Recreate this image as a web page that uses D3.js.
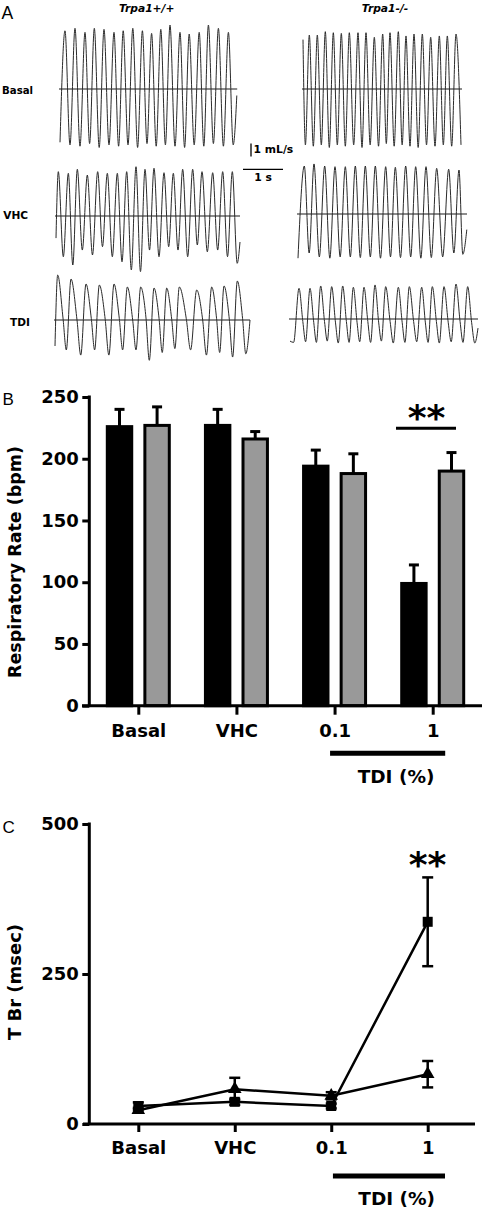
<!DOCTYPE html>
<html><head><meta charset="utf-8">
<script src="https://cdn.jsdelivr.net/npm/d3@7"></script>
<style>body{margin:0;background:#fff} svg{display:block}</style>
</head><body><svg id="c" width="484" height="1212"></svg>
<script>
// ---------- Panel A: respiratory flow traces (time s, flow mL/s) ----------
const wtBasalPeaks = [[0.125,4.48],[0.375,4.67],[0.625,4.36],[0.858,4.67],[1.1,4.59],[1.35,4.36],[1.58,4.48],[1.82,4.67],[2.06,4.48],[2.29,4.28],[2.52,4.59],[2.75,4.92],[3.0,4.36],[3.23,4.23],[3.48,4.36],[3.71,4.92],[3.96,4.67],[4.21,4.36]];
const wtBasalValleys = [[0,-4.1],[0.25,-4.3],[0.5,-4.4],[0.74,-4.2],[0.98,-4.5],[1.225,-4.3],[1.465,-4.4],[1.7,-4.3],[1.94,-4.5],[2.175,-4.2],[2.405,-4.4],[2.635,-4.3],[2.875,-4.4],[3.115,-4.5],[3.355,-4.3],[3.595,-4.4],[3.835,-4.2],[4.085,-4.4],[4.33,-4.3],[4.42,-0.5]];
const koBasalPeaks = [[0.158,4.15],[0.358,4.15],[0.558,4.41],[0.758,4.33],[0.958,4.28],[1.158,4.33],[1.375,4.33],[1.575,4.33],[1.783,3.98],[1.992,4.23],[2.175,4.33],[2.383,4.41],[2.575,4.08],[2.775,4.23],[2.983,4.23],[3.192,3.98],[3.408,4.08],[3.608,4.08],[3.825,4.23]];
const koBasalValleys = [[0,3.8],[0.06,-4.3],[0.258,-4.4],[0.458,-4.3],[0.658,-4.5],[0.858,-4.3],[1.058,-4.4],[1.267,-4.3],[1.475,-4.5],[1.679,-4.3],[1.888,-4.4],[2.083,-4.2],[2.279,-4.4],[2.479,-4.3],[2.675,-4.4],[2.879,-4.5],[3.088,-4.3],[3.3,-4.4],[3.508,-4.3],[3.717,-4.4],[3.95,-4.3]];
const wtVhcPeaks = [[0.058,3.41],[0.308,3.28],[0.533,3.59],[0.783,3.15],[1.042,3.41],[1.283,3.28],[1.533,3.28],[1.767,3.41],[2.0,3.79],[2.225,3.59],[2.45,3.67],[2.7,3.33],[2.933,3.28],[3.167,3.59],[3.417,3.59],[3.65,3.41],[3.917,3.33],[4.167,3.41],[4.408,3.41]];
const wtVhcValleys = [[0,-1.7],[0.183,-3.13],[0.42,-3.77],[0.658,-2.62],[0.912,-3.0],[1.162,-2.36],[1.408,-3.13],[1.65,-3.52],[1.883,-4.15],[2.112,-4.28],[2.338,-2.62],[2.575,-3.13],[2.817,-2.36],[3.05,-2.62],[3.292,-3.13],[3.533,-2.23],[3.783,-2.75],[4.042,-2.62],[4.288,-3.13],[4.53,-3.64],[4.6,-2.0]];
const koVhcPeaks = [[0.158,3.69],[0.4,3.85],[0.667,3.69],[0.925,3.64],[1.183,3.64],[1.433,3.69],[1.683,3.69],[1.933,3.69],[2.192,3.64],[2.433,3.59],[2.692,3.69],[2.942,3.64],[3.2,3.64],[3.467,3.51],[3.767,3.44],[4.025,3.38]];
const koVhcValleys = [[0,-3.4],[0.279,-3.0],[0.533,-3.3],[0.796,-3.4],[1.054,-3.3],[1.308,-3.3],[1.558,-3.35],[1.808,-3.3],[2.062,-3.4],[2.312,-3.3],[2.562,-3.35],[2.817,-3.3],[3.071,-3.4],[3.333,-3.35],[3.617,-3.3],[3.896,-3.0],[4.12,-3.1],[4.22,-1.2]];
const wtTdiPeaks = [[0.067,3.46],[0.4,3.15],[0.775,2.77],[1.108,2.69],[1.475,2.77],[1.808,2.54],[2.142,2.54],[2.475,2.46],[2.792,2.46],[3.108,2.54],[3.542,2.31],[3.917,2.54],[4.225,2.62],[4.558,3.0]];
const wtTdiMids = [[0.2,0.15],[0.55,0.0],[0.908,0.1],[1.255,0.05],[1.608,0.1],[1.942,0.0],[2.275,0.15],[2.602,0.1],[2.918,0.05],[3.282,0.1],[3.692,0.0],[4.04,0.1],[4.358,0.05],[4.69,0.1]];
const wtTdiValleys = [[0,-2.0],[0.283,-2.3],[0.644,-2.7],[0.991,-2.3],[1.347,-2.7],[1.691,-2.3],[2.025,-2.3],[2.358,-3.1],[2.681,-2.5],[2.997,-2.2],[3.39,-2.3],[3.786,-2.7],[4.117,-2.5],[4.441,-2.85],[4.77,-2.6],[4.875,0.0]];
const koTdiPeaks = [[0.225,2.36],[0.5,2.36],[0.767,2.54],[1.042,2.49],[1.317,2.54],[1.583,2.44],[1.85,2.44],[2.125,2.62],[2.392,2.49],[2.708,2.44],[2.983,2.49],[3.292,2.44],[3.558,2.49],[3.85,2.49],[4.15,2.69],[4.442,2.49]];
const koTdiMids = [[0.321,-0.2],[0.593,-0.25],[0.863,-0.2],[1.138,-0.3],[1.41,-0.2],[1.676,-0.25],[1.946,-0.2],[2.218,-0.3],[2.503,-0.2],[2.804,-0.25],[3.091,-0.2],[3.385,-0.3],[3.66,-0.2],[3.955,-0.25],[4.252,-0.2],[4.54,-0.25]];
const koTdiValleys = [[0,-1.7],[0.09,-1.8],[0.39,-1.75],[0.66,-1.8],[0.932,-1.7],[1.207,-1.85],[1.477,-1.8],[1.743,-1.75],[2.015,-1.8],[2.285,-1.7],[2.582,-1.85],[2.873,-1.8],[3.168,-1.75],[3.452,-1.8],[3.733,-1.85],[4.03,-1.75],[4.325,-1.8],[4.62,-1.85],[4.7,-0.7]];
const genotypes = ['Trpa1+/+','Trpa1-/-'];
const conditions = ['Basal','VHC','TDI'];
const scaleFlow = 1;   // mL/s
const scaleTime = 1;   // s

// ---------- Panel B: respiratory rate ----------
const categories = ['Basal','VHC','0.1','1'];
const rrTicks = [0,50,100,150,200,250];
const rrWT = [226,227,194,99];
const rrWTsem = [14,13,13,15];
const rrKO = [227,216,188,190];
const rrKOsem = [15,6,16,15];

// ---------- Panel C: T Br ----------
const tbrTicks = [0,250,500];
const tbrWT = [30,37,30,337];
const tbrWTsem = [6,5,4,74];
const tbrKO = [23,58,47,83];
const tbrKOsem = [4,19,6,22];

const svg = d3.select('#c');
const F = '"DejaVu Sans", sans-serif';
const LF = '"Liberation Sans", Arial, sans-serif';

// ================= Panel A =================
svg.append('text').attr('x',1.5).attr('y',18.5).attr('font-family',LF).attr('font-size',17.5).text('A');
[[146.7,genotypes[0]],[385,genotypes[1]]].forEach(([cx,t])=>{
  svg.append('text').attr('x',cx).attr('y',12.3).attr('text-anchor','middle')
    .attr('font-family',F).attr('font-weight','bold').attr('font-style','italic').attr('font-size',10.7).text(t);
});
svg.append('text').attr('x',2).attr('y',94.3).attr('font-family',F).attr('font-weight','bold').attr('font-size',10.2).text(conditions[0]);
svg.append('text').attr('x',3.3).attr('y',219.3).attr('font-family',F).attr('font-weight','bold').attr('font-size',10.6).text(conditions[1]);
svg.append('text').attr('x',10).attr('y',325.7).attr('font-family',F).attr('font-weight','bold').attr('font-size',10.6).text(conditions[2]);

const secK = 40, ampK = 13;
function drawTrace(peaks, valleys, mids, x0, y0, len){
  const pts = peaks.concat(valleys, mids||[]).sort((a,b)=>a[0]-b[0]);
  const x = d3.scaleLinear().domain([0,len]).range([x0, x0+len*secK]);
  const y = d3.scaleLinear().domain([-1,1]).range([y0+ampK, y0-ampK]);
  svg.append('line').attr('x1',x(0)-1).attr('x2',x(len)).attr('y1',y(0)).attr('y2',y(0))
    .attr('stroke','#1a1a1a').attr('stroke-width',1.1);
  svg.append('path').datum(pts)
    .attr('d', d3.line().x(d=>x(d[0])).y(d=>y(d[1])).curve(d3.curveMonotoneX))
    .attr('fill','none').attr('stroke','#2a2a2a').attr('stroke-width',1);
}
drawTrace(wtBasalPeaks, wtBasalValleys, null, 60, 89, 4.43);
drawTrace(koBasalPeaks, koBasalValleys, null, 303, 89, 3.975);
drawTrace(wtVhcPeaks, wtVhcValleys, null, 56, 216, 4.6);
drawTrace(koVhcPeaks, koVhcValleys, null, 298, 214, 4.225);
drawTrace(wtTdiPeaks, wtTdiValleys, wtTdiMids, 55, 320, 4.875);
drawTrace(koTdiPeaks, koTdiValleys, koTdiMids, 290, 319, 4.7);

// scale bars
{
  const sy = d3.scaleLinear().domain([0,1]).range([156.5,156.5-ampK]);
  svg.append('line').attr('x1',251).attr('x2',251).attr('y1',sy(0)).attr('y2',sy(scaleFlow))
    .attr('stroke','#000').attr('stroke-width',1.3);
  svg.append('text').attr('x',253.5).attr('y',152.8).attr('font-family',F).attr('font-weight','bold').attr('font-size',10.8).text('1 mL/s');
  const sx = d3.scaleLinear().domain([0,1]).range([243,243+secK]);
  svg.append('line').attr('x1',sx(0)).attr('x2',sx(scaleTime)).attr('y1',169.3).attr('y2',169.3)
    .attr('stroke','#000').attr('stroke-width',1.3);
  svg.append('text').attr('x',263).attr('y',181).attr('text-anchor','middle').attr('font-family',F).attr('font-weight','bold').attr('font-size',10.8).text('1 s');
}

// ================= Panel B =================
{
  const yB = d3.scaleLinear().domain([0,250]).range([705.7,397]);
  const xB = d3.scalePoint().domain(categories).range([138.3,432.7]);
  const inner = d3.scaleBand().domain(['wt','ko']).range([-32.5,32.5]).paddingInner(0.27);
  const bw = inner.bandwidth();
  svg.append('text').attr('x',2.5).attr('y',405).attr('font-family',LF).attr('font-size',17).text('B');

  const series = [
    {key:'wt', vals:rrWT, sem:rrWTsem, fill:'#000'},
    {key:'ko', vals:rrKO, sem:rrKOsem, fill:'#999'}
  ];
  series.forEach(s=>{
    const g = svg.append('g');
    g.selectAll('line.e').data(categories).enter().append('line')
      .attr('x1',(c)=>xB(c)+inner(s.key)+bw/2).attr('x2',(c)=>xB(c)+inner(s.key)+bw/2)
      .attr('y1',(c,i)=>yB(s.vals[i])).attr('y2',(c,i)=>yB(s.vals[i]+s.sem[i]))
      .attr('stroke','#000').attr('stroke-width',3);
    g.selectAll('line.c').data(categories).enter().append('line')
      .attr('x1',(c)=>xB(c)+inner(s.key)+bw/2-5).attr('x2',(c)=>xB(c)+inner(s.key)+bw/2+5)
      .attr('y1',(c,i)=>yB(s.vals[i]+s.sem[i])).attr('y2',(c,i)=>yB(s.vals[i]+s.sem[i]))
      .attr('stroke','#000').attr('stroke-width',3);
    g.selectAll('rect').data(categories).enter().append('rect')
      .attr('x',(c)=>xB(c)+inner(s.key)+1.5).attr('width',bw-3)
      .attr('y',(c,i)=>yB(s.vals[i])).attr('height',(c,i)=>yB(0)-yB(s.vals[i]))
      .attr('fill',s.fill).attr('stroke','#000').attr('stroke-width',3);
  });

  const ya = svg.append('g').attr('transform','translate(89.3,0)')
    .call(d3.axisLeft(yB).tickValues(rrTicks).tickSize(7).tickSizeOuter(0).tickPadding(3.5));
  ya.select('.domain').attr('stroke-width',3).attr('d',`M0,${yB(250)-1.5}V${yB(0)}`);
  ya.selectAll('.tick line').attr('stroke-width',3);
  ya.selectAll('.tick text').attr('font-family',F).attr('font-weight','bold').attr('font-size',18).attr('fill','#000');

  svg.append('line').attr('x1',82).attr('x2',482).attr('y1',yB(0)).attr('y2',yB(0)).attr('stroke','#000').attr('stroke-width',3);
  const xa = svg.append('g').attr('transform',`translate(0,${yB(0)})`)
    .call(d3.axisBottom(xB).tickSize(9).tickSizeOuter(0).tickPadding(9.6));
  xa.select('.domain').remove();
  xa.selectAll('.tick line').attr('stroke-width',3);
  xa.selectAll('.tick text').attr('font-family',F).attr('font-weight','bold').attr('font-size',18).attr('fill','#000');

  svg.append('text').attr('transform','translate(21,562) rotate(-90)').attr('text-anchor','middle')
    .attr('font-family',F).attr('font-weight','bold').attr('font-size',17.5).text('Respiratory Rate (bpm)');

  svg.append('line').attr('x1',396).attr('x2',456).attr('y1',428.3).attr('y2',428.3).attr('stroke','#000').attr('stroke-width',3);
  svg.append('text').attr('x',426.5).attr('y',430).attr('text-anchor','middle').attr('font-family',F).attr('font-weight','bold').attr('font-size',36).text('**');

  svg.append('line').attr('x1',xB('0.1')-4.5).attr('x2',xB('1')+12.5).attr('y1',753.3).attr('y2',753.3).attr('stroke','#000').attr('stroke-width',5);
  svg.append('text').attr('x',396).attr('y',782.7).attr('text-anchor','middle').attr('font-family',F).attr('font-weight','bold').attr('font-size',18.5).text('TDI (%)');
}

// ================= Panel C =================
{
  const yC = d3.scaleLinear().domain([0,500]).range([1124,824]);
  const xC = d3.scalePoint().domain(categories).range([138.3,427.7]);
  svg.append('text').attr('x',2.5).attr('y',832.5).attr('font-family',LF).attr('font-size',17).text('C');

  const ya = svg.append('g').attr('transform','translate(89.3,0)')
    .call(d3.axisLeft(yC).tickValues(tbrTicks).tickSize(7).tickSizeOuter(0).tickPadding(3.5));
  ya.select('.domain').attr('stroke-width',3).attr('d',`M0,${yC(500)-1.5}V${yC(0)}`);
  ya.selectAll('.tick line').attr('stroke-width',3);
  ya.selectAll('.tick text').attr('font-family',F).attr('font-weight','bold').attr('font-size',18).attr('fill','#000');

  svg.append('line').attr('x1',83).attr('x2',475).attr('y1',yC(0)).attr('y2',yC(0)).attr('stroke','#000').attr('stroke-width',3);
  const xa = svg.append('g').attr('transform',`translate(0,${yC(0)})`)
    .call(d3.axisBottom(xC).tickSize(8).tickSizeOuter(0).tickPadding(9));
  xa.select('.domain').remove();
  xa.selectAll('.tick line').attr('stroke-width',3);
  xa.selectAll('.tick text').attr('font-family',F).attr('font-weight','bold').attr('font-size',18).attr('fill','#000');

  svg.append('text').attr('transform','translate(21,982) rotate(-90)').attr('text-anchor','middle')
    .attr('font-family',F).attr('font-weight','bold').attr('font-size',18).text('T Br (msec)');

  const line = d3.line().x((d,i)=>xC(categories[i])).y(d=>yC(d));
  [[tbrWT,tbrWTsem,d3.symbolSquare,100],[tbrKO,tbrKOsem,d3.symbolTriangle,80]].forEach(([vals,sem,sym,size])=>{
    const g = svg.append('g');
    g.append('path').datum(vals).attr('d',line).attr('fill','none').attr('stroke','#000').attr('stroke-width',2.5);
    vals.forEach((v,i)=>{
      const cx = xC(categories[i]);
      g.append('line').attr('x1',cx).attr('x2',cx).attr('y1',yC(v-sem[i])).attr('y2',yC(v+sem[i])).attr('stroke','#000').attr('stroke-width',2.5);
      [v-sem[i], v+sem[i]].forEach(e=>{
        g.append('line').attr('x1',cx-5.5).attr('x2',cx+5.5).attr('y1',yC(e)).attr('y2',yC(e)).attr('stroke','#000').attr('stroke-width',2.5);
      });
      g.append('path').attr('d',d3.symbol().type(sym).size(size)())
        .attr('transform',`translate(${cx},${yC(v)})`).attr('fill','#000');
    });
  });

  svg.append('text').attr('x',427.5).attr('y',877).attr('text-anchor','middle').attr('font-family',F).attr('font-weight','bold').attr('font-size',36).text('**');

  svg.append('line').attr('x1',xC('0.1')+1.7).attr('x2',xC('1')+17.3).attr('y1',1176).attr('y2',1176).attr('stroke','#000').attr('stroke-width',5);
  svg.append('text').attr('x',396.7).attr('y',1205).attr('text-anchor','middle').attr('font-family',F).attr('font-weight','bold').attr('font-size',18.5).text('TDI (%)');
}
</script></body></html>
